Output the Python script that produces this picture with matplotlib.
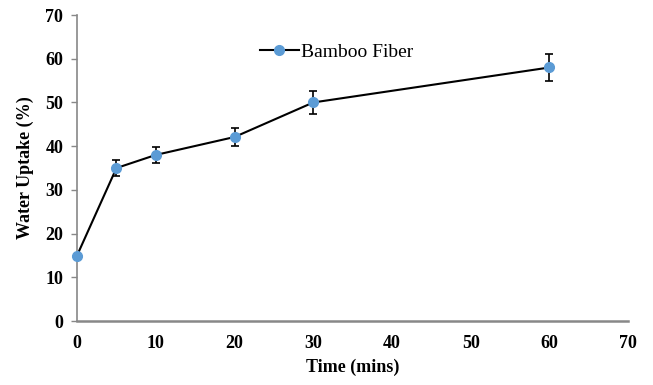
import matplotlib
matplotlib.use("Agg")
import matplotlib.pyplot as plt

time_mins = [0, 5, 10, 20, 30, 60]
water_uptake = [15.0, 35.0, 38.0, 42.1, 50.0, 58.0]
errors = [0.0, 1.9, 1.9, 2.1, 2.6, 3.0]
x_ticks = [0, 10, 20, 30, 40, 50, 60, 70]
y_ticks = [0, 10, 20, 30, 40, 50, 60, 70]

plt.rcParams['font.family'] = ['Liberation Serif', 'DejaVu Serif']

fig = plt.figure(figsize=(6.53, 3.85), dpi=100)
ax = fig.add_axes([0.118, 0.166, 0.844, 0.795])

ax.errorbar(time_mins, water_uptake, yerr=errors, fmt='none', ecolor='black',
            elinewidth=1.2, capsize=3, capthick=1.2, zorder=2, clip_on=False)
ax.plot(time_mins, water_uptake, color='black', lw=1.5, marker='o',
        markersize=7, markerfacecolor='#5B9BD5', markeredgecolor='#5B9BD5',
        label='Bamboo Fiber', zorder=3, clip_on=False)

ax.set_xlim(0, 70)
ax.set_ylim(0, 70)
ax.set_xticks(x_ticks)
ax.set_yticks(y_ticks)
for s in ['top', 'right']:
    ax.spines[s].set_visible(False)
for s in ['left', 'bottom']:
    ax.spines[s].set_color('#888888')
ax.spines['bottom'].set_linewidth(1.8)
ax.spines['left'].set_linewidth(1.2)
ax.tick_params(axis='y', direction='out', length=4, color='#888888', width=1,
               labelsize=13, pad=6)
ax.tick_params(axis='x', length=0, labelsize=13, pad=10)
for lab in ax.get_xticklabels() + ax.get_yticklabels():
    lab.set_fontweight('bold')

ax.set_xlabel('Time (mins)', fontsize=13, fontweight='bold', labelpad=5)
ax.set_ylabel('Water Uptake (%)', fontsize=13, fontweight='bold', labelpad=8)

ax.legend(loc='upper left', bbox_to_anchor=(0.3, 0.965), frameon=False,
          fontsize=14, handlelength=2.0, handletextpad=0.1)

fig.savefig('out.png', dpi=100)
